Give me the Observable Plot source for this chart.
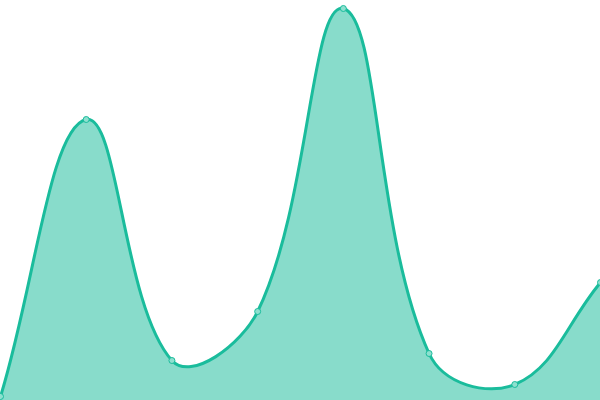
<!DOCTYPE html>
<html>
<head>
<meta charset="utf-8">
<script src="https://cdn.jsdelivr.net/npm/d3@7"></script>
<script src="https://cdn.jsdelivr.net/npm/@observablehq/plot@0.6"></script>
<style>
html,body{margin:0;padding:0;background:#fff;overflow:hidden;}
svg{display:block;}
</style>
</head>
<body>
<div id="chart"></div>
<script>
const xs = [0, 1, 2, 3, 4, 5, 6, 7];
const values = [4, 281, 40, 89, 392, 47, 16, 118];
const data = xs.map((x, i) => ({x, y: values[i]}));

// Distance-weighted spline (tension 0.4), drawn in pixel space
function SplineCurve(context, tension) { this._context = context; this._t = tension; }
SplineCurve.prototype = {
  areaStart() { this._line = 0; },
  areaEnd() { this._line = NaN; },
  lineStart() { this._pts = []; },
  point(x, y) { this._pts.push([+x, +y]); },
  lineEnd() {
    const p = this._pts, n = p.length, c = this._context, t = this._t;
    if (n) {
      if (this._line) c.lineTo(p[0][0], p[0][1]); else c.moveTo(p[0][0], p[0][1]);
      const ctrl = p.map((cur, i) => {
        const prev = i > 0 ? p[i - 1] : cur;
        const next = i < n - 1 ? p[i + 1] : cur;
        const d01 = Math.hypot(cur[0] - prev[0], cur[1] - prev[1]);
        const d12 = Math.hypot(next[0] - cur[0], next[1] - cur[1]);
        const s = d01 + d12;
        const fa = s ? t * d01 / s : 0, fb = s ? t * d12 / s : 0;
        const dx = next[0] - prev[0], dy = next[1] - prev[1];
        return {prev: [cur[0] - fa * dx, cur[1] - fa * dy], next: [cur[0] + fb * dx, cur[1] + fb * dy]};
      });
      for (let i = 1; i < n; i++) {
        const a = ctrl[i - 1].next, b = ctrl[i].prev;
        c.bezierCurveTo(a[0], a[1], b[0], b[1], p[i][0], p[i][1]);
      }
    }
    if (this._line || (this._line !== 0 && n === 1)) c.closePath();
    this._line = 1 - this._line;
  }
};
const spline = (context) => new SplineCurve(context, 0.4);

const chart = Plot.plot({
  width: 600,
  height: 400,
  margin: 0,
  x: {domain: [0, 7], axis: null},
  y: {domain: [0, 400], axis: null},
  marks: [
    Plot.areaY(data, {x: "x", y: "y", curve: spline, fill: "#1abc9c", fillOpacity: 0.52}),
    Plot.lineY(data, {x: "x", y: "y", curve: spline, stroke: "#1abc9c", strokeWidth: 3}),
    Plot.dot(data, {x: "x", y: "y", r: 3, fill: "#8ee0cf", stroke: "#1abc9c", strokeWidth: 1})
  ]
});
document.getElementById("chart").appendChild(chart);
</script>
</body>
</html>
